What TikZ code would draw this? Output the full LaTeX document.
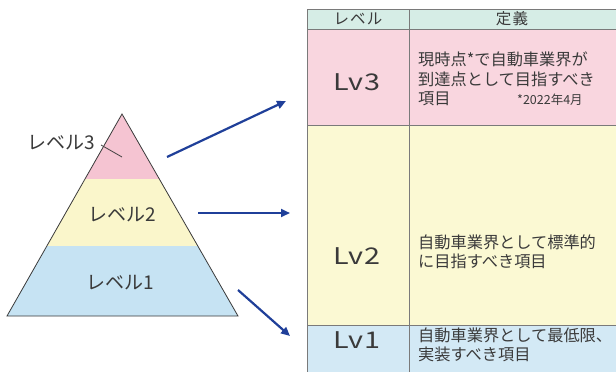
\documentclass[tikz,border=0pt]{standalone}
\usepackage{fontspec}
\usepackage{graphicx}
\setmainfont{Noto Sans CJK JP}
\usetikzlibrary{arrows.meta}
\definecolor{txt}{HTML}{3A3A3A}
\definecolor{pyrpink}{HTML}{F5C4D2}
\definecolor{pyryellow}{HTML}{FAF6CB}
\definecolor{pyrblue}{HTML}{C6E3F3}
\definecolor{hdr}{HTML}{D6EDE6}
\definecolor{cpink}{HTML}{F9D6DF}
\definecolor{cyellow}{HTML}{FBF9D3}
\definecolor{cblue}{HTML}{D3E9F5}
\definecolor{grid}{HTML}{7A7A7A}
\definecolor{arr}{HTML}{1F3F99}
\newcommand{\lvtext}[1]{\scalebox{1.25}[1]{\addfontfeature{LetterSpace=4}#1}}
\tikzset{
  pyrlabel/.style={text=txt, font=\fontsize{19}{22}\selectfont, inner sep=0pt},
  lvlabel/.style={text=txt, font=\fontsize{23}{27}\selectfont, inner sep=0pt},
  deftext/.style={text=txt, font=\fontsize{16.2}{19.5}\selectfont, align=left, anchor=west, inner sep=0pt},
  hdrtext/.style={text=txt, font=\fontsize{15.5}{18}\selectfont\addfontfeature{LetterSpace=8}, inner sep=0pt},
  gridline/.style={draw=grid, line width=0.8pt},
  bluearrow/.style={draw=arr, line width=2.2pt, -{Triangle[length=9pt,width=8pt]}},
}
\begin{document}
\begin{tikzpicture}[x=1pt,y=-1pt]
\useasboundingbox (0,0) rectangle (616,372);
\fill[white] (0,0) rectangle (616,372);
% pyramid
\coordinate (apex) at (122,114);
\coordinate (bl) at (7,316);
\coordinate (br) at (238,316);
\begin{scope}
  \clip (apex) -- (br) -- (bl) -- cycle;
  \fill[pyrpink] (0,110) rectangle (250,179);
  \fill[pyryellow] (0,179) rectangle (250,246);
  \fill[pyrblue] (0,246) rectangle (250,320);
\end{scope}
\draw[txt, line width=0.8pt, line join=miter] (apex) -- (br) -- (bl) -- cycle;
\node[pyrlabel] (l3) at (61,143) {レベル3};
\coordinate (l3start) at (101,145);
\coordinate (l3tip) at (122,157);
\draw[txt, line width=0.8pt] (l3start) -- (l3tip);
\node[pyrlabel] (l2) at (122,215) {レベル2};
\node[pyrlabel] (l1) at (120,283) {レベル1};
% arrows
\coordinate (a1s) at (167,157); \coordinate (a1e) at (286,101);
\coordinate (a2s) at (198,213); \coordinate (a2e) at (290,213);
\coordinate (a3s) at (238,290); \coordinate (a3e) at (290,336);
\draw[bluearrow] (a1s) -- (a1e);
\draw[bluearrow] (a2s) -- (a2e);
\draw[bluearrow] (a3s) -- (a3e);
% table
\fill[hdr] (307,9) rectangle (618,29);
\fill[cpink] (307,29) rectangle (618,125);
\fill[cyellow] (307,125) rectangle (618,325);
\fill[cblue] (307,325) rectangle (618,374);
\draw[gridline] (618,9) -- (307,9) -- (307,374);
\draw[gridline] (307,29) -- (618,29);
\draw[gridline] (307,125) -- (618,125);
\draw[gridline] (307,325) -- (618,325);
\draw[gridline] (409,9) -- (409,374);
\node[hdrtext] (h1) at (358,19) {レベル};
\node[hdrtext] (h2) at (512,19) {定義};
\node[lvlabel] (lv3) at (357,82) {\lvtext{Lv3}};
\node[lvlabel] (lv2) at (357,256) {\lvtext{Lv2}};
\node[lvlabel] (lv1) at (357,340) {\lvtext{Lv1}};
\node[deftext] (d3) at (418,79) {現時点*で自動車業界が\\到達点として目指すべき\\項目};
\node[text=txt, font=\fontsize{12.5}{14}\selectfont, inner sep=0pt, anchor=west] (note) at (517,100) {*2022年4月};
\node[deftext] (d2) at (418,252) {自動車業界として標準的\\に目指すべき項目};
\node[deftext] (d1) at (418,345) {自動車業界として最低限、\\実装すべき項目};
\end{tikzpicture}
\end{document}
